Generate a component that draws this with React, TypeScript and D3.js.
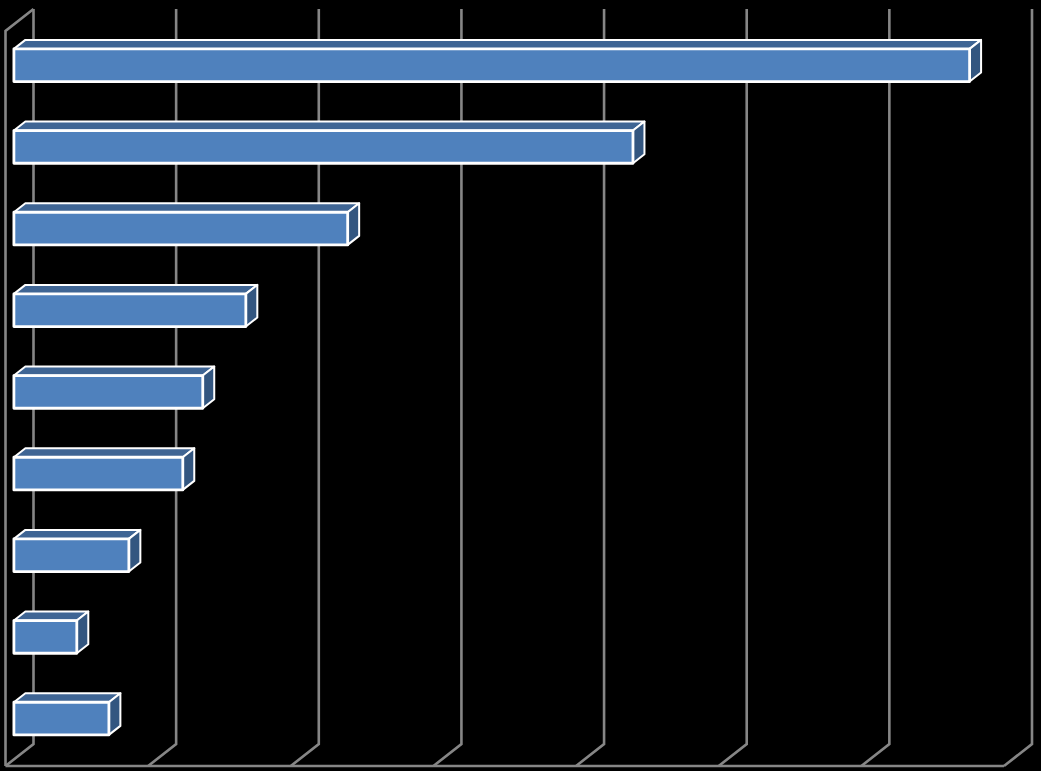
import React from 'react';
import { scaleLinear, scaleBand, line, range } from 'd3';

// category labels are not visible in the picture (black on black), so rows are just numbered
const categories = ['1', '2', '3', '4', '5', '6', '7', '8', '9'];
const values = [6.7, 4.34, 2.34, 1.626, 1.324, 1.184, 0.806, 0.441, 0.666];
const tickValues = [0, 1, 2, 3, 4, 5, 6, 7];

const width = 1041;
const height = 771;

// front plane of the 3D box
const plot = { left: 5.5, right: 1004, top: 31, bottom: 766 };
const depthX = 28;
const depthY = -22;

const barFront = 0.3; // depth where the bar starts
const barBack = 0.71; // depth where the bar ends

const gridColor = '#868686';
const frontColor = '#4f81bd';
const topColor = '#3f6594';
const sideColor = '#335680';

const x = scaleLinear().domain([0, 7]).range([plot.left, plot.right]);
const y = scaleBand<string>()
  .domain(categories)
  .range([plot.top, plot.bottom])
  .paddingInner(0.6)
  .paddingOuter(0.3);

// project a point (value, pixel y on front plane, depth 0..1) on to the screen
const px = (v: number, depth: number) => x(v) + depth * depthX;
const py = (yy: number, depth: number) => yy + depth * depthY;

const path = line<[number, number]>();

export default function App() {
  return (
    <svg
      width={width}
      height={height}
      style={{ position: 'absolute', left: 0, top: 0, display: 'block', background: '#000' }}
    >
      <g fill="none" stroke={gridColor} strokeWidth={2.6}>
        {/* left wall */}
        <path
          d={
            path([
              [px(0, 0), py(plot.bottom, 0)],
              [px(0, 0), py(plot.top, 0)],
              [px(0, 1), py(plot.top, 1)],
            ]) as string
          }
        />
        {/* floor front edge */}
        <path
          d={
            path([
              [px(0, 0), py(plot.bottom, 0)],
              [px(7, 0), py(plot.bottom, 0)],
            ]) as string
          }
        />
        {tickValues.map((t) => (
          <path
            key={t}
            d={
              path([
                [px(t, 0), py(plot.bottom, 0)],
                [px(t, 1), py(plot.bottom, 1)],
                [px(t, 1), py(plot.top, 1)],
              ]) as string
            }
          />
        ))}
      </g>
      <g stroke="#fff" strokeLinejoin="round">
        {range(values.length).map((i) => {
          const x0 = px(0, barFront);
          const x1 = px(values[i], barFront);
          const top = py(y(categories[i]) as number, barFront);
          const bottom = top + y.bandwidth();
          const dx = (barBack - barFront) * depthX;
          const dy = (barBack - barFront) * depthY;
          return (
            <g key={categories[i]}>
              <path
                fill={topColor}
                strokeWidth={2}
                d={
                  path([
                    [x0, top],
                    [x0 + dx, top + dy],
                    [x1 + dx, top + dy],
                    [x1, top],
                  ]) + 'Z'
                }
              />
              <path
                fill={sideColor}
                strokeWidth={2}
                d={
                  path([
                    [x1, top],
                    [x1 + dx, top + dy],
                    [x1 + dx, bottom + dy],
                    [x1, bottom],
                  ]) + 'Z'
                }
              />
              <rect
                x={x0}
                y={top}
                width={x1 - x0}
                height={bottom - top}
                fill={frontColor}
                strokeWidth={2.8}
              />
            </g>
          );
        })}
      </g>
    </svg>
  );
}
